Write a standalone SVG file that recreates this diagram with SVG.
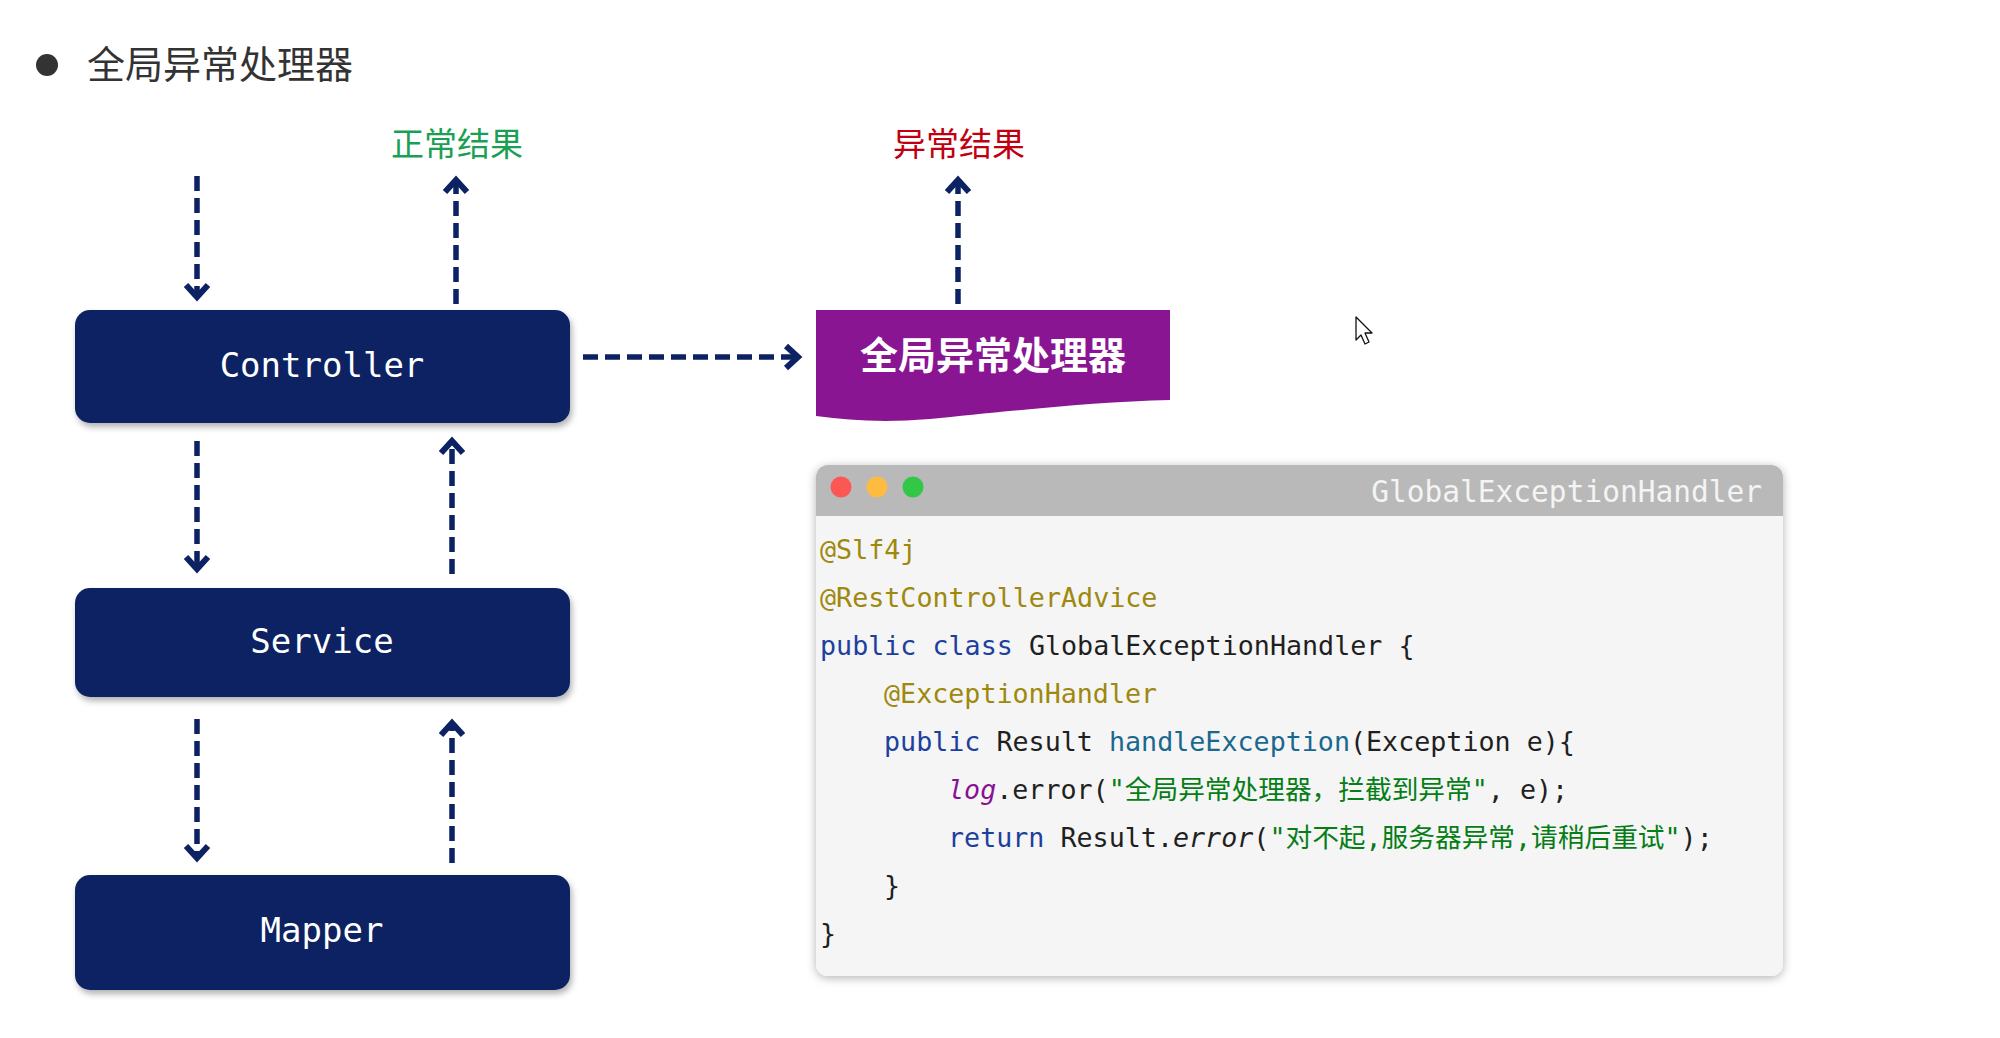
<svg xmlns="http://www.w3.org/2000/svg" width="2000" height="1038" viewBox="0 0 2000 1038">
<style>
.title{font-family:"Noto Sans CJK SC","Noto Sans",sans-serif;font-size:38px;fill:#333333}
.res{font-family:"Noto Sans CJK SC","Noto Sans",sans-serif;font-size:33px;text-anchor:middle}
.box{fill:#0d2262}
.lbl{font-family:"DejaVu Sans Mono","Liberation Mono",monospace;font-size:34px;fill:#ffffff;text-anchor:middle}
.conn{fill:none;stroke:#0d2262;stroke-width:5.5;stroke-dasharray:15 7}
.code{font-family:"DejaVu Sans Mono","Noto Sans CJK SC",monospace;font-size:26.7px;fill:#1f1f1f;white-space:pre}
.an{fill:#9e880d}
.kw{fill:#1d3f9e}
.fn{fill:#19688f}
.str{fill:#067d17}
.lg{fill:#871094;font-style:italic}
.it{font-style:italic}
</style>
<defs>
<marker id="chev" markerUnits="userSpaceOnUse" orient="auto" overflow="visible" markerWidth="1" markerHeight="1" refX="0" refY="0">
<path d="M-12,-11 L0,0 L-12,11" fill="none" stroke="#0d2262" stroke-width="6" stroke-dasharray="none" stroke-linejoin="miter" stroke-linecap="butt"/>
</marker>
<filter id="sh" x="-10%" y="-20%" width="120%" height="150%">
<feDropShadow dx="2" dy="4" stdDeviation="3" flood-color="#000000" flood-opacity="0.3"/>
</filter>
<filter id="wsh" x="-5%" y="-5%" width="110%" height="112%">
<feDropShadow dx="0" dy="2" stdDeviation="5" flood-color="#000000" flood-opacity="0.3"/>
</filter>
</defs>
<rect width="2000" height="1038" fill="#ffffff"/>

<g id="heading">
<circle cx="47" cy="65" r="11" fill="#333333"/>
<text class="title" x="87" y="78">全局异常处理器</text>
</g>

<g id="label-normal"><text class="res" x="457" y="156" fill="#1a9f53">正常结果</text></g>
<g id="label-exception"><text class="res" x="959" y="156" fill="#c00010">异常结果</text></g>

<g id="controller">
<rect class="box" x="75" y="310" width="495" height="113" rx="15" filter="url(#sh)"/>
<text class="lbl" x="322" y="377">Controller</text>
</g>
<g id="service">
<rect class="box" x="75" y="588" width="495" height="109" rx="15" filter="url(#sh)"/>
<text class="lbl" x="322" y="653">Service</text>
</g>
<g id="mapper">
<rect class="box" x="75" y="875" width="495" height="115" rx="15" filter="url(#sh)"/>
<text class="lbl" x="322" y="942">Mapper</text>
</g>

<g id="global-handler">
<path d="M816,310 H1170 V400 C1090,402 1000,412 930,419 C880,423 850,420 816,416 Z" fill="#8a1592"/>
<text x="993" y="369" text-anchor="middle" font-family="'Noto Sans CJK SC','Noto Sans',sans-serif" font-size="38" font-weight="700" fill="#ffffff">全局异常处理器</text>
</g>

<g id="connectors">
<path class="conn" d="M197,176 V297" marker-end="url(#chev)"/>
<path class="conn" d="M456,304 V180" marker-end="url(#chev)"/>
<path class="conn" d="M197,441 V569" marker-end="url(#chev)"/>
<path class="conn" d="M452,574 V441" marker-end="url(#chev)"/>
<path class="conn" d="M197,719 V858" marker-end="url(#chev)"/>
<path class="conn" d="M452,863 V723" marker-end="url(#chev)"/>
<path class="conn" d="M583,357 H798" marker-end="url(#chev)"/>
<path class="conn" d="M958,304 V180" marker-end="url(#chev)"/>
</g>

<g id="code-window">
<rect x="816" y="465" width="967" height="511" rx="12" fill="#f5f5f5" filter="url(#wsh)"/>
<path d="M828,465 H1771 A12,12 0 0 1 1783,477 V516 H816 V477 A12,12 0 0 1 828,465 Z" fill="#b9b9b9"/>
<circle cx="841" cy="487" r="10.5" fill="#fc5753"/>
<circle cx="877" cy="487" r="10.5" fill="#fdbc40"/>
<circle cx="913" cy="487" r="10.5" fill="#33c748"/>
<text x="1762" y="502" text-anchor="end" font-family="'DejaVu Sans Mono','Liberation Mono',monospace" font-size="29.5" fill="#f4f4f4">GlobalExceptionHandler</text>
<text class="code an" x="820" y="559">@Slf4j</text>
<text class="code an" x="820" y="607">@RestControllerAdvice</text>
<text class="code" x="820" y="655"><tspan class="kw">public class</tspan> GlobalExceptionHandler {</text>
<text class="code an" x="884" y="703">@ExceptionHandler</text>
<text class="code" x="884" y="751"><tspan class="kw">public</tspan> Result <tspan class="fn">handleException</tspan>(Exception e){</text>
<text class="code" x="948" y="799"><tspan class="lg">log</tspan>.error(<tspan class="str">"全局异常处理器，拦截到异常"</tspan>, e);</text>
<text class="code" x="948" y="847"><tspan class="kw">return</tspan> Result.<tspan class="it">error</tspan>(<tspan class="str">"对不起,服务器异常,请稍后重试"</tspan>);</text>
<text class="code" x="884" y="895">}</text>
<text class="code" x="820" y="943">}</text>
</g>

<g id="cursor">
<path d="M1356,317 V340 L1361,335 L1365,344 L1369,342 L1365,333 L1372,333 Z" fill="#ffffff" stroke="#111111" stroke-width="1.3" stroke-linejoin="round"/>
</g>
</svg>
